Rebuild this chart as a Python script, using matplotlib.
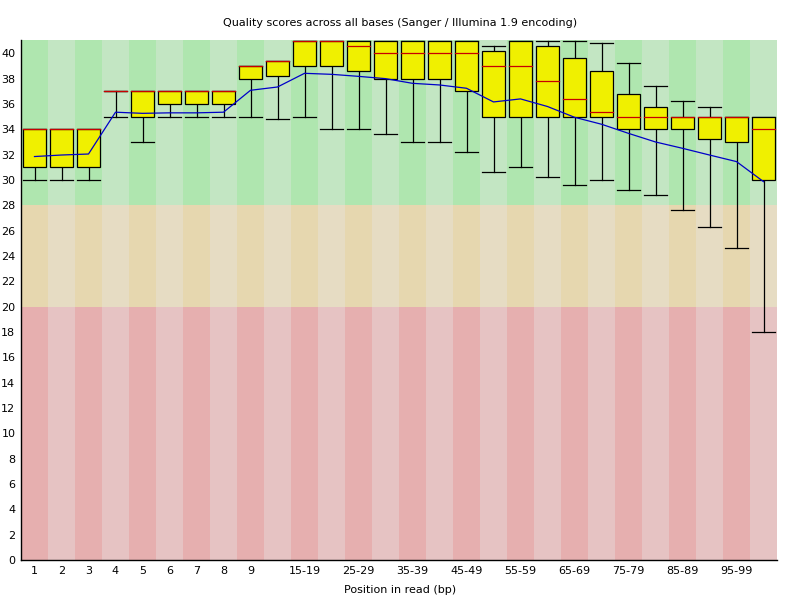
import matplotlib
matplotlib.use("Agg")
import matplotlib.pyplot as plt
from matplotlib.patches import Rectangle

# ---- data ----
positions = ["1", "2", "3", "4", "5", "6", "7", "8", "9",
             "10-14", "15-19", "20-24", "25-29", "30-34", "35-39", "40-44",
             "45-49", "50-54", "55-59", "60-64", "65-69", "70-74", "75-79",
             "80-84", "85-89", "90-94", "95-99", "100-101"]
tick_labels = ["1", "2", "3", "4", "5", "6", "7", "8", "9",
               "", "15-19", "", "25-29", "", "35-39", "", "45-49", "", "55-59",
               "", "65-69", "", "75-79", "", "85-89", "", "95-99", ""]
p10 = [30, 30, 30, 35, 33, 35, 35, 35, 35, 34.8, 35, 34, 34, 33.6, 33, 33,
       32.2, 30.6, 31, 30.2, 29.6, 30, 29.2, 28.8, 27.6, 26.3, 24.6, 18]
q1 = [31, 31, 31, 37, 35, 36, 36, 36, 38, 38.2, 39, 39, 38.6, 38, 38, 38,
      37, 35, 35, 35, 35, 35, 34, 34, 34, 33.2, 33, 30]
median = [34, 34, 34, 37, 37, 37, 37, 37, 39, 39.4, 41, 41, 40.6, 40, 40, 40,
          40, 39, 39, 37.8, 36.4, 35.35, 35, 35, 35, 35, 35, 34]
q3 = [34, 34, 34, 37, 37, 37, 37, 37, 39, 39.4, 41, 41, 41, 41, 41, 41,
      41, 40.2, 41, 40.55, 39.6, 38.6, 36.8, 35.8, 35, 35, 35, 35]
p90 = [34, 34, 34, 37, 37, 37, 37, 37, 39, 39.4, 41, 41, 41, 41, 41, 41,
       41, 40.6, 41, 41, 41, 40.8, 39.2, 37.4, 36.2, 35.8, 35, 35]
mean = [31.85, 31.97, 32.05, 35.35, 35.26, 35.3, 35.3, 35.35, 37.08, 37.34,
        38.42, 38.34, 38.18, 38.0, 37.63, 37.5, 37.24, 36.16, 36.4, 35.8,
        34.95, 34.4, 33.68, 33.0, 32.5, 31.97, 31.45, 29.87]

bands = [(28, 41.05, "#C3E6C3", "#AFE6AF"),
         (20, 28, "#E6DCC3", "#E6D7AF"),
         (0, 20, "#E6C3C3", "#E6AFAF")]

plt.rcParams['font.family'] = ['DejaVu Sans']
fig = plt.figure(figsize=(8, 6), dpi=100)
ax = fig.add_axes([21 / 800, 40 / 600, 756 / 800, 520 / 600])
n = len(positions)
ax.set_xlim(0, n)
ax.set_ylim(0, 41.05)

# background stripes
for i in range(n):
    for lo, hi, light, dark in bands:
        c = dark if i % 2 == 0 else light
        ax.add_patch(Rectangle((i, lo), 1, hi - lo, facecolor=c,
                               edgecolor='none', zorder=0))

bw = 0.86
lw = 0.9
for i in range(n):
    x = i + 0.5
    ax.plot([x, x], [p10[i], q1[i]], color='black', lw=lw, zorder=2)
    ax.plot([x, x], [q3[i], p90[i]], color='black', lw=lw, zorder=2)
    ax.plot([x - bw / 2, x + bw / 2], [p10[i], p10[i]], color='black', lw=lw, zorder=2)
    ax.plot([x - bw / 2, x + bw / 2], [p90[i], p90[i]], color='black', lw=lw, zorder=2)
    ax.add_patch(Rectangle((x - bw / 2, q1[i]), bw, q3[i] - q1[i],
                           facecolor='#F0F000', edgecolor='black', lw=lw, zorder=3))
    ax.plot([x - bw / 2, x + bw / 2], [median[i], median[i]],
            color='#C80000', lw=lw, zorder=4)

ax.plot([i + 0.5 for i in range(n)], mean, color='#0000C8', lw=lw, zorder=5)

ax.set_xticks([i + 0.5 for i in range(n)])
ax.set_xticklabels(tick_labels, fontsize=8)
ax.set_yticks(range(0, 41, 2))
ax.set_yticklabels([str(v) for v in range(0, 41, 2)], fontsize=8)
ax.tick_params(length=0, pad=4)
for s in ['top', 'right']:
    ax.spines[s].set_visible(False)
for s in ['left', 'bottom']:
    ax.spines[s].set_color('black')
    ax.spines[s].set_linewidth(1)
    ax.spines[s].set_zorder(6)

fig.text(0.5, 1 - 23 / 600, "Quality scores across all bases (Sanger / Illumina 1.9 encoding)",
         ha='center', va='center', fontsize=8)
fig.text(0.5, 1 - 590 / 600, "Position in read (bp)", ha='center', va='center', fontsize=8)

fig.savefig("out.png", dpi=100)
